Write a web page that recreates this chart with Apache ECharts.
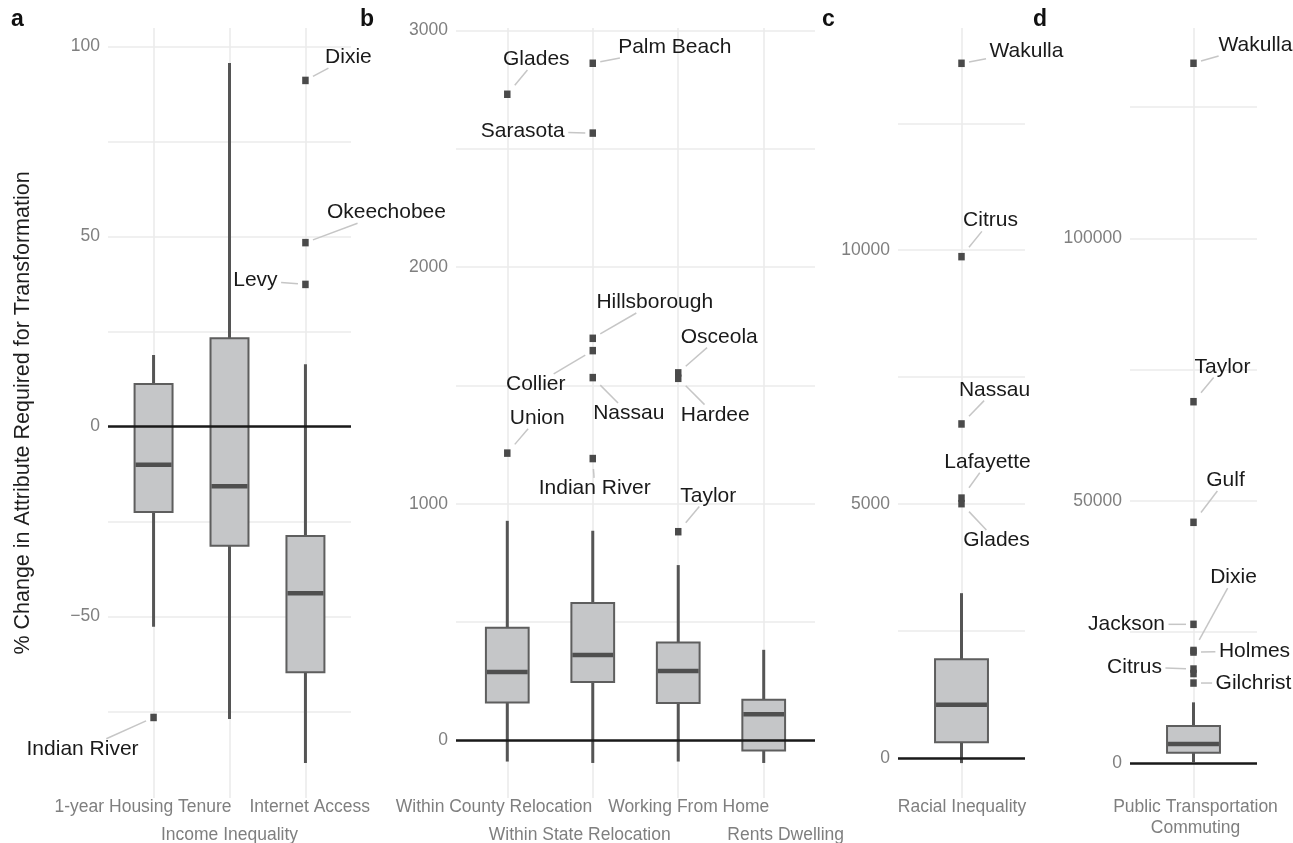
<!DOCTYPE html>
<html><head><meta charset="utf-8">
<script src="https://cdn.jsdelivr.net/npm/echarts@6/dist/echarts.min.js"></script>
<style>html,body{margin:0;padding:0;background:#fff}#c{width:1293px;height:843px}</style>
</head><body><div id="c"></div>
<script>
// ---------- Panel a ----------
const catsA = ['1-year Housing Tenure', 'Income Inequality', 'Internet Access'];
const boxA = [ // [min, Q1, median, Q3, max]
  [-52.7, -22.5, -10.1, 11.2, 18.8],
  [-77.0, -31.4, -15.7, 23.2, 95.7],
  [-88.6, -64.7, -43.9, -28.8, 16.4]
];
const outA = [ // [category index, value, county]
  [0, -76.6, 'Indian River'], [2, 91.1, 'Dixie'], [2, 48.4, 'Okeechobee'], [2, 37.4, 'Levy']
];
const ticksA = [-50, 0, 50, 100];
const gridA = [-75, -50, -25, 0, 25, 50, 75, 100];

// ---------- Panel b ----------
const catsB = ['Within County Relocation', 'Within State Relocation', 'Working From Home', 'Rents Dwelling'];
const boxB = [
  [-89, 160, 289, 476, 928],
  [-95, 247, 361, 581, 886],
  [-89, 158, 294, 414, 741],
  [-95, -42, 111, 172, 383]
];
const outB = [
  [0, 2730, 'Glades'], [0, 1214, 'Union'],
  [1, 2861, 'Palm Beach'], [1, 2566, 'Sarasota'], [1, 1699, 'Hillsborough'],
  [1, 1647, 'Collier'], [1, 1533, 'Nassau'], [1, 1191, 'Indian River'],
  [2, 1553, 'Osceola'], [2, 1530, 'Hardee'], [2, 882, 'Taylor']
];
const ticksB = [0, 1000, 2000, 3000];
const gridB = [0, 500, 1000, 1500, 2000, 2500, 3000];

// ---------- Panel c ----------
const catsC = ['Racial Inequality'];
const boxC = [[-98, 315, 1049, 1949, 3248]];
const outC = [
  [0, 13681, 'Wakulla'], [0, 9874, 'Citrus'], [0, 6580, 'Nassau'],
  [0, 5120, 'Lafayette'], [0, 5010, 'Glades']
];
const ticksC = [0, 5000, 10000];
const gridC = [0, 2500, 5000, 7500, 10000, 12500];

// ---------- Panel d ----------
const catsD = ['Public Transportation\nCommuting'];
const boxD = [[250, 2025, 3676, 7105, 11619]];
const outD = [
  [0, 133333, 'Wakulla'], [0, 68876, 'Taylor'], [0, 45905, 'Gulf'],
  [0, 26476, 'Jackson'], [0, 21500, 'Dixie'], [0, 21200, 'Holmes'],
  [0, 17960, 'Citrus'], [0, 17100, ''], [0, 15295, 'Gilchrist']
];
const ticksD = [0, 50000, 100000];
const gridD = [0, 25000, 50000, 75000, 100000, 125000];

// label offsets (px from point to label centre)
const offA = { 'Indian River': [-71, 32], 'Dixie': [43, -23], 'Okeechobee': [81, -30], 'Levy': [-50, -4] };
const offB = {
  'Glades': [29, -35], 'Union': [30, -35], 'Palm Beach': [82, -16], 'Sarasota': [-70, -2],
  'Hillsborough': [62, -36], 'Collier': [-57, 34], 'Nassau': [36, 36], 'Indian River': [2, 30],
  'Osceola': [41, -36], 'Hardee': [37, 37], 'Taylor': [30, -36]
};
const offC = { 'Wakulla': [65, -12], 'Citrus': [29, -36], 'Nassau': [33, -34], 'Lafayette': [26, -36], 'Glades': [35, 37] };
const offD = {
  'Wakulla': [62, -18], 'Taylor': [29, -35], 'Gulf': [32, -42], 'Jackson': [-67, 0],
  'Dixie': [40, -73], 'Holmes': [61, -1], 'Citrus': [-59, -2], 'Gilchrist': [60, 0]
};

const FONT = '"Liberation Sans", Arial, Helvetica, sans-serif';
const GRIDC = '#ebebeb';
const TICKC = '#7f7f7f';
const LABEL_SIZE = 21;

const panels = [
  { cats: catsA, box: boxA, out: outA, off: offA, ticks: ticksA, grid: gridA, min: -97.8, max: 104.9, left: 108, width: 243, lh: 22, m: -1.5, nudge: [-10.5, 0, 4.3] },
  { cats: catsB, box: boxB, out: outB, off: offB, ticks: ticksB, grid: gridB, min: -243, max: 3010, left: 456, width: 359, lh: 22, m: -1.5, nudge: [-13.3, -13, 10.5, 22] },
  { cats: catsC, box: boxC, out: outC, off: offC, ticks: ticksC, grid: gridC, min: -785, max: 14376, left: 898, width: 127, lh: 22, m: -1.5, nudge: [0.5] },
  { cats: catsD, box: boxD, out: outD, off: offD, ticks: ticksD, grid: gridD, min: -6600, max: 140050, left: 1130, width: 127, lh: 21, m: -1, nudge: [2] }
];

const measureCtx = document.createElement('canvas').getContext('2d');
measureCtx.font = LABEL_SIZE + 'px ' + FONT;

function renderBox(params, api) {
  const x = api.value(0);
  const lo = api.coord([x, api.value(1)]);
  const q1 = api.coord([x, api.value(2)]);
  const md = api.coord([x, api.value(3)]);
  const q3 = api.coord([x, api.value(4)]);
  const hi = api.coord([x, api.value(5)]);
  const hw = api.size([0.5, 0])[0] / 2;
  return {
    type: 'group',
    children: [
      { type: 'line', shape: { x1: lo[0], y1: lo[1], x2: hi[0], y2: hi[1] }, style: { stroke: '#555555', lineWidth: 3 } },
      { type: 'rect', shape: { x: q3[0] - hw, y: q3[1], width: hw * 2, height: q1[1] - q3[1] }, style: { fill: '#c5c6c8', stroke: '#5e5e5e', lineWidth: 2 } },
      { type: 'line', shape: { x1: md[0] - hw + 1, y1: md[1], x2: md[0] + hw - 1, y2: md[1] }, style: { stroke: '#4f4f4f', lineWidth: 4.5 } }
    ]
  };
}

// parameter t where the ray p + t*d leaves the box [cx±hx, cy±hy] (p inside)
function exitT(px, py, dx, dy, cx, cy, hx, hy) {
  let t = Infinity;
  if (dx > 0) t = Math.min(t, (cx + hx - px) / dx);
  if (dx < 0) t = Math.min(t, (cx - hx - px) / dx);
  if (dy > 0) t = Math.min(t, (cy + hy - py) / dy);
  if (dy < 0) t = Math.min(t, (cy - hy - py) / dy);
  return t;
}
// parameter t where the ray p + t*d enters the box (p outside)
function entryT(px, py, dx, dy, cx, cy, hx, hy) {
  let tmin = -Infinity, tmax = Infinity;
  const lo = [cx - hx, cy - hy], hi = [cx + hx, cy + hy], p = [px, py], d = [dx, dy];
  for (let a = 0; a < 2; a++) {
    if (d[a] === 0) { if (p[a] < lo[a] || p[a] > hi[a]) return null; continue; }
    let t1 = (lo[a] - p[a]) / d[a], t2 = (hi[a] - p[a]) / d[a];
    if (t1 > t2) { const s = t1; t1 = t2; t2 = s; }
    tmin = Math.max(tmin, t1); tmax = Math.min(tmax, t2);
  }
  return tmin <= tmax && tmin > 0 ? tmin : null;
}

function makeOutlierRenderer(p) {
  return function (params, api) {
    const o = p.out[params.dataIndex];
    const pt = api.coord([api.value(0), api.value(1)]);
    const children = [];
    const off = p.off[o[2]];
    if (o[2] && off) {
      const lx = pt[0] + off[0], ly = pt[1] + off[1];
      const w = measureCtx.measureText(o[2]).width;
      const hx = w / 2 + 3.5, hy = 10.7;
      const dx = off[0], dy = off[1];
      const tEnd = entryT(pt[0], pt[1], dx, dy, lx, ly, hx, hy);
      const tStart = exitT(pt[0], pt[1], dx, dy, pt[0], pt[1], 7.5, 10.5);
      if (tEnd != null && tEnd > tStart) {
        const sx = pt[0] + dx * tStart, sy = pt[1] + dy * tStart;
        const ex = pt[0] + dx * tEnd, ey = pt[1] + dy * tEnd;
        if (Math.hypot(ex - sx, ey - sy) > 3) {
          children.push({
            type: 'line',
            shape: { x1: sx, y1: sy, x2: ex, y2: ey },
            style: { stroke: '#c6c6c6', lineWidth: 1.5 }
          });
        }
      }
      children.push({
        type: 'text', x: lx, y: ly,
        style: { text: o[2], fill: '#1a1a1a', fontSize: LABEL_SIZE, fontFamily: FONT, align: 'center', verticalAlign: 'middle' }
      });
    }
    children.push({
      type: 'rect', shape: { x: pt[0] - 3.25, y: pt[1] - 3.75, width: 6.5, height: 7.5 },
      style: { fill: '#4a4a4a' }
    });
    return { type: 'group', children: children };
  };
}

const grids = [], xAxes = [], yAxes = [], series = [];
panels.forEach((p, i) => {
  grids.push({ left: p.left, width: p.width, top: 28, height: 770, containLabel: false, outerBoundsMode: 'none' });
  const n = p.cats.length;
  const idx = p.cats.map((c, k) => k);
  const unitPx = p.width / (n + 0.2);
  const xi = xAxes.length;
  // main x axis: vertical grid lines at the categories
  xAxes.push({
    type: 'value', gridIndex: i, min: -0.6, max: n - 0.4, position: 'bottom',
    axisLine: { show: false },
    axisTick: { show: false, customValues: idx },
    splitLine: { show: true, lineStyle: { color: GRIDC, width: 1.6 } },
    axisLabel: { show: false }
  });
  // one label axis per category (dodged into two rows)
  idx.forEach(k => {
    const pos = k + p.nudge[k] / unitPx;
    xAxes.push({
      type: 'value', gridIndex: i, min: -0.6, max: n - 0.4, position: 'bottom', offset: 0,
      axisLine: { show: false },
      axisTick: { show: false, customValues: [pos] },
      splitLine: { show: false },
      axisLabel: {
        customValues: [pos], hideOverlap: false, showMinLabel: true, showMaxLabel: true,
        formatter: () => p.cats[k],
        color: TICKC, fontSize: 17.5, fontFamily: FONT, lineHeight: p.lh,
        margin: p.m + (k % 2 ? 28 : 0)
      }
    });
  });
  yAxes.push({
    type: 'value', gridIndex: i, min: p.min, max: p.max,
    axisLine: { show: false },
    axisTick: { show: false, customValues: p.grid },
    splitLine: { show: true, lineStyle: { color: GRIDC, width: 1.6 } },
    axisLabel: {
      customValues: p.ticks, hideOverlap: false, showMinLabel: true, showMaxLabel: true,
      formatter: v => String(v).replace('-', '\u2212'),
      color: TICKC, fontSize: 17.5, fontFamily: FONT, margin: 8
    },
    name: i === 0 ? '% Change in Attribute Required for Transformation' : '',
    nameLocation: 'middle', nameGap: 74, nameRotate: 90,
    nameTextStyle: { color: '#1e1e1e', fontSize: 21.5, fontFamily: FONT }
  });
  // zero reference line
  series.push({
    type: 'scatter', xAxisIndex: xi, yAxisIndex: i, data: [], z: 1, silent: true,
    markLine: {
      silent: true, symbol: 'none', animation: false,
      label: { show: false },
      lineStyle: { color: '#1a1a1a', width: 2.6, type: 'solid' },
      data: [{ yAxis: 0 }]
    }
  });
  series.push({
    type: 'custom', xAxisIndex: xi, yAxisIndex: i, z: 2, silent: true,
    renderItem: renderBox,
    data: p.box.map((b, k) => [k].concat(b))
  });
  series.push({
    type: 'custom', xAxisIndex: xi, yAxisIndex: i, z: 3, silent: true,
    renderItem: makeOutlierRenderer(p),
    data: p.out.map(o => [o[0], o[1]])
  });
});

const chart = echarts.init(document.getElementById('c'), null, { renderer: 'canvas' });
chart.setOption({
  animation: false,
  backgroundColor: '#ffffff',
  textStyle: { fontFamily: FONT },
  title: [
    { text: 'a', left: 11, top: 8 },
    { text: 'b', left: 360, top: 8 },
    { text: 'c', left: 822, top: 8 },
    { text: 'd', left: 1033, top: 8 }
  ].map(t => Object.assign(t, { padding: 0, textStyle: { fontSize: 23, fontWeight: 'bold', color: '#111', fontFamily: FONT } })),
  grid: grids,
  xAxis: xAxes,
  yAxis: yAxes,
  series: series
});
</script>
</body></html>
